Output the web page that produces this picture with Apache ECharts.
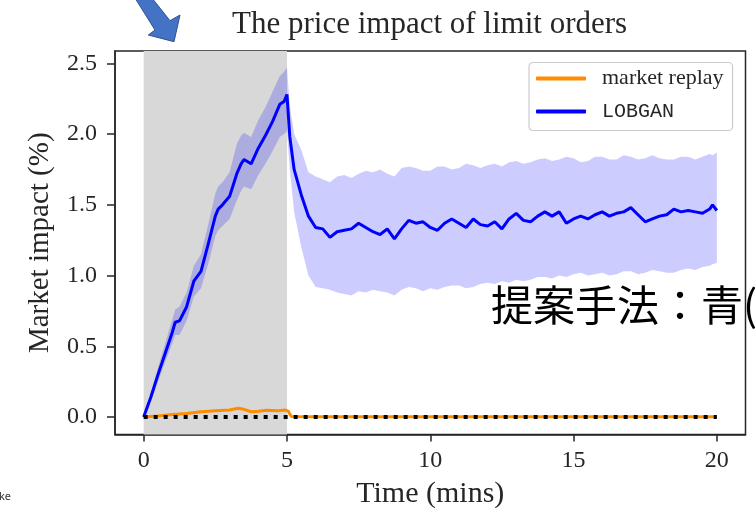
<!DOCTYPE html>
<html>
<head>
<meta charset="utf-8">
<script src="https://cdn.jsdelivr.net/npm/echarts@6/dist/echarts.min.js"></script>
<style>
html,body{margin:0;padding:0;background:#fff;}
#c{width:755px;height:520px;}
</style>
</head>
<body>
<div id="c"></div>
<script>
// ---- data ----
const titleText = 'The price impact of limit orders';
const xName = 'Time (mins)';
const yName = 'Market impact (%)';
const xTicks = [0, 5, 10, 15, 20];
const yTicks = [0.0, 0.5, 1.0, 1.5, 2.0, 2.5];
const shadeRange = [0, 5];

const lobTimes = [0, 0.25, 0.5, 0.75, 1.0, 1.1, 1.25, 1.5, 1.75, 2.0, 2.25, 2.5, 2.6, 2.75, 3.0, 3.25, 3.4, 3.5, 3.75, 4.0, 4.25, 4.5, 4.75, 4.9, 5.0,
  5.1, 5.25, 5.5, 5.75, 6.0, 6.25, 6.5, 6.75, 7.0, 7.25, 7.5, 7.75, 8.0, 8.25, 8.5, 8.75, 9.0, 9.25, 9.5, 9.75, 10.0,
  10.25, 10.5, 10.75, 11.0, 11.25, 11.5, 11.75, 12.0, 12.25, 12.5, 12.75, 13.0, 13.25, 13.5, 13.75, 14.0, 14.25, 14.5, 14.75, 15.0,
  15.25, 15.5, 15.75, 16.0, 16.25, 16.5, 16.75, 17.0, 17.25, 17.5, 17.75, 18.0, 18.25, 18.5, 18.75, 19.0, 19.25, 19.5, 19.75, 19.85, 20.0];
const lobMean = [0, 0.14, 0.30, 0.45, 0.60, 0.67, 0.68, 0.78, 0.96, 1.03, 1.22, 1.42, 1.47, 1.50, 1.56, 1.72, 1.79, 1.82, 1.79, 1.90, 1.99, 2.09, 2.21, 2.23, 2.28,
  1.98, 1.75, 1.57, 1.42, 1.34, 1.33, 1.27, 1.31, 1.32, 1.33, 1.37, 1.34, 1.31, 1.29, 1.33, 1.26, 1.33, 1.39, 1.37, 1.38, 1.34,
  1.32, 1.37, 1.40, 1.37, 1.34, 1.40, 1.36, 1.35, 1.38, 1.33, 1.40, 1.44, 1.39, 1.38, 1.42, 1.45, 1.42, 1.45, 1.37, 1.40,
  1.42, 1.40, 1.43, 1.45, 1.42, 1.44, 1.45, 1.48, 1.43, 1.38, 1.40, 1.42, 1.43, 1.47, 1.45, 1.46, 1.45, 1.44, 1.47, 1.50, 1.46];
const lobUpper = [0, 0.17, 0.35, 0.52, 0.69, 0.76, 0.78, 0.88, 1.07, 1.15, 1.36, 1.58, 1.63, 1.66, 1.73, 1.93, 1.99, 2.01, 1.98, 2.10, 2.19, 2.30, 2.41, 2.44, 2.47,
  2.20, 2.00, 1.89, 1.73, 1.70, 1.68, 1.66, 1.70, 1.71, 1.69, 1.72, 1.74, 1.73, 1.75, 1.72, 1.70, 1.76, 1.77, 1.76, 1.74, 1.74,
  1.77, 1.77, 1.75, 1.76, 1.79, 1.78, 1.76, 1.78, 1.79, 1.77, 1.80, 1.81, 1.79, 1.80, 1.82, 1.83, 1.81, 1.82, 1.84, 1.83,
  1.80, 1.81, 1.84, 1.84, 1.82, 1.82, 1.85, 1.84, 1.82, 1.83, 1.85, 1.83, 1.82, 1.82, 1.84, 1.84, 1.82, 1.84, 1.86, 1.85, 1.87];
const lobLower = [0, 0.11, 0.25, 0.39, 0.52, 0.58, 0.58, 0.68, 0.85, 0.91, 1.08, 1.28, 1.32, 1.35, 1.40, 1.53, 1.60, 1.63, 1.61, 1.71, 1.79, 1.88, 1.98, 2.00, 2.02,
  1.75, 1.45, 1.20, 1.00, 0.92, 0.91, 0.90, 0.88, 0.87, 0.86, 0.89, 0.88, 0.90, 0.89, 0.88, 0.86, 0.90, 0.92, 0.91, 0.89, 0.91,
  0.90, 0.92, 0.93, 0.93, 0.91, 0.92, 0.94, 0.95, 0.94, 0.96, 0.95, 0.97, 0.96, 0.97, 0.99, 0.99, 0.98, 1.00, 0.99, 1.01,
  1.02, 1.00, 1.01, 1.02, 1.00, 1.01, 1.03, 1.03, 1.01, 1.02, 1.04, 1.03, 1.02, 1.02, 1.04, 1.05, 1.04, 1.06, 1.07, 1.08, 1.09];

const replayTimes = [0, 0.5, 1.0, 1.5, 2.0, 2.5, 3.0, 3.3, 3.5, 3.75, 4.0, 4.3, 4.7, 4.95, 5.05, 5.15, 6, 10, 15, 20];
const replayValues = [0, 0.008, 0.018, 0.025, 0.038, 0.045, 0.05, 0.062, 0.055, 0.038, 0.042, 0.048, 0.045, 0.05, 0.04, 0.005, 0.003, 0.002, 0.002, 0.002];

const zeroTimes = [0, 20];
const zeroValues = [0, 0];

const noteText = '提案手法：青(';
const cornerText = 'ke';

// ---- chart ----
const serif = '"Liberation Serif", "Times New Roman", serif';
const ink = '#262626';
const pairs = (xs, ys) => xs.map((x, i) => [x, ys[i]]);

const chart = echarts.init(document.getElementById('c'), null, {renderer: 'canvas'});
chart.setOption({
  animation: false,
  backgroundColor: '#fff',
  title: {
    text: titleText,
    left: 232, top: 9, padding: 0,
    textStyle: {fontFamily: serif, fontSize: 31, fontWeight: 'normal', color: ink}
  },
  grid: {left: 115, right: 9.5, top: 51, bottom: 85.5, show: true, borderColor: ink, borderWidth: 1.5, containLabel: false},
  legend: {
    orient: 'vertical',
    left: 529, top: 62.5,
    padding: [5, 9, 9, 7],
    itemGap: 12,
    itemWidth: 50, itemHeight: 4,
    icon: 'roundRect',
    backgroundColor: '#fff',
    borderColor: '#cccccc', borderWidth: 1.2, borderRadius: 4,
    data: ['market replay', 'LOBGAN'],
    formatter: n => n === 'LOBGAN' ? '{m|' + n + '}' : '{s|' + n + '}',
    textStyle: {
      color: ink,
      rich: {
        s: {fontFamily: serif, fontSize: 22, lineHeight: 22, padding: [0, 0, 0, 11], color: ink},
        m: {fontFamily: '"Liberation Mono", "Courier New", monospace', fontSize: 20, lineHeight: 22, padding: [0, 0, 0, 11], color: ink}
      }
    }
  },
  xAxis: {
    type: 'value', min: -1, max: 21,
    name: xName, nameLocation: 'middle', nameGap: 45,
    nameTextStyle: {fontFamily: serif, fontSize: 30, color: ink},
    axisLine: {show: true, onZero: false, lineStyle: {color: ink, width: 1.5}},
    axisTick: {show: true, length: 7, lineStyle: {color: ink, width: 1.5}, customValues: xTicks},
    axisLabel: {customValues: xTicks, fontFamily: serif, fontSize: 24, color: ink, margin: 14},
    splitLine: {show: false}
  },
  yAxis: {
    type: 'value', min: -0.123, max: 2.587,
    name: yName, nameLocation: 'middle', nameGap: 60,
    nameTextStyle: {fontFamily: serif, fontSize: 29, color: ink},
    axisLine: {show: true, onZero: false, lineStyle: {color: ink, width: 1.5}},
    axisTick: {show: true, length: 8, lineStyle: {color: ink, width: 1.5}, customValues: yTicks},
    axisLabel: {customValues: yTicks, fontFamily: serif, fontSize: 24, color: ink, margin: 18,
      formatter: v => Number(v).toFixed(1)},
    splitLine: {show: false}
  },
  series: [
    {
      name: 'shade', type: 'line', data: [], z: 1, silent: true,
      markArea: {silent: true, itemStyle: {color: '#d8d8d8', opacity: 1},
        data: [[{xAxis: shadeRange[0]}, {xAxis: shadeRange[1]}]]}
    },
    {
      name: 'band', type: 'custom', z: 2, silent: true,
      data: [0],
      renderItem: (params, api) => {
        const pts = [];
        for (let i = 0; i < lobTimes.length; i++) pts.push(api.coord([lobTimes[i], lobUpper[i]]));
        for (let i = lobTimes.length - 1; i >= 0; i--) pts.push(api.coord([lobTimes[i], lobLower[i]]));
        return {type: 'polygon', shape: {points: pts}, style: {fill: 'rgba(0,0,255,0.2)', stroke: null}};
      }
    },
    {
      name: 'market replay', type: 'line', z: 3, showSymbol: false,
      data: pairs(replayTimes, replayValues),
      itemStyle: {color: '#ff8c00'},
      lineStyle: {color: '#ff8c00', width: 3}
    },
    {
      name: 'LOBGAN', type: 'line', z: 4, showSymbol: false,
      data: pairs(lobTimes, lobMean),
      itemStyle: {color: '#0000ff'},
      lineStyle: {color: '#0000ff', width: 3}
    },
    {
      name: 'zero', type: 'line', z: 5, showSymbol: false, silent: true,
      data: pairs(zeroTimes, zeroValues),
      lineStyle: {color: '#000', width: 4, type: [4, 6], cap: 'butt'}
    }
  ],
  graphic: [
    {
      type: 'polygon', z: 100,
      shape: {points: [[135, -2], [152, -2], [170, 20.7], [180, 15], [174, 41.7], [148.3, 35], [155, 30]]},
      style: {fill: '#4472c4', stroke: '#2f528f', lineWidth: 1}
    },
    {
      type: 'text', z: 100, left: 491, top: 284,
      style: {text: noteText, font: '42px "Noto Sans CJK JP", sans-serif', fill: '#000'}
    },
    {
      type: 'text', z: 100, left: -1, top: 491,
      style: {text: cornerText, font: '11px "Noto Sans", sans-serif', fill: '#333'}
    }
  ]
});
</script>
</body>
</html>
